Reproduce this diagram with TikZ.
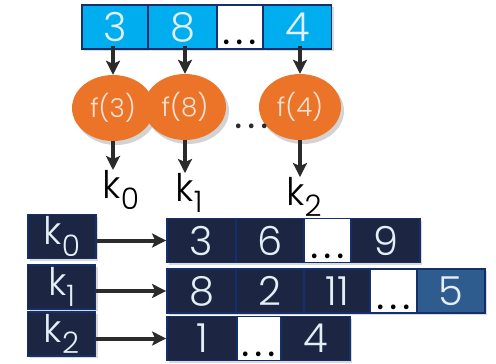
\documentclass[tikz,border=0pt]{standalone}
\usepackage{fontspec}
\setmainfont{Poppins}[UprightFont=* Light]
\usetikzlibrary{shapes.geometric,shadows,arrows.meta}
\definecolor{cellblue}{HTML}{00AEEF}
\definecolor{navyline}{HTML}{142F6B}
\definecolor{navyfill}{HTML}{1C2541}
\definecolor{lightcell}{HTML}{2F5C8E}
\definecolor{hashorange}{HTML}{EC7428}
\definecolor{paletext}{HTML}{E4EEF6}
\definecolor{peachtext}{HTML}{FAE3D4}
\definecolor{arrowgrey}{HTML}{2B2B2B}
\newcommand{\keyname}[1]{k\raisebox{-0.3em}{\scalebox{0.78}{#1}}}
\newcommand{\celldots}{\raisebox{-18pt}[0pt][0pt]{.\hspace{4.5pt}.\hspace{4.5pt}.}}
\tikzset{
  cell/.style={draw=navyline, line width=1.8pt, inner sep=0pt, minimum height=44,
    text=paletext, font=\fontsize{40}{40}\selectfont,
    drop shadow={opacity=0.3, shadow xshift=2pt, shadow yshift=-2pt}},
  topcell/.style={cell, fill=cellblue, minimum width=68},
  keycell/.style={cell, fill=navyfill, minimum width=68},
  dotcell/.style={cell, fill=white, text=black, minimum width=46, font=\fontsize{46}{46}\selectfont},
  hashfun/.style={ellipse, fill=hashorange, minimum width=82, minimum height=66, inner sep=0pt,
    text=peachtext, font=\fontsize{26}{26}\selectfont,
    drop shadow={opacity=0.35, shadow xshift=3pt, shadow yshift=-4pt}},
  keylabel/.style={font=\fontsize{38}{38}\selectfont, inner sep=0pt},
  arr/.style={-{Stealth[length=14pt,width=14pt,inset=3pt]}, draw=arrowgrey, line width=4pt}
}
\begin{document}
\begin{tikzpicture}[x=1pt, y=-1pt]
\useasboundingbox (0,0) rectangle (496,364);

% input array
\node[topcell, minimum width=66] (in0) at (115,27) {3};
\node[topcell] (in1) at (182.5,27) {8};
\node[dotcell] (in2) at (240,27) {\celldots};
\node[topcell] (in3) at (297.5,27) {4};

% hash function
\node[hashfun] (f0) at (113,108) {f(3)};
\node[hashfun] (f1) at (185,107) {f(8)};
\node[hashfun] (f2) at (300,107) {f(4)};
\node[font=\fontsize{46}{46}\selectfont, text=arrowgrey] (fdots) at (252,126) {.\hspace{4.5pt}.\hspace{4.5pt}.};

\node[keylabel] (k0) at (121,190) {\keyname{0}};
\node[keylabel] (k1) at (189,193) {\keyname{1}};
\node[keylabel] (k2) at (304,197) {\keyname{2}};

\draw[arr] (in0.south -| f0.north) ++(0,-4) -- (f0.north);
\draw[arr] (in1.south -| f1.north) ++(0,-4) -- (f1.north);
\draw[arr] (in3.south -| f2.north) ++(0,-4) -- (f2.north);
\draw[arr] (f0.south) -- (f0.south |- k0.north);
\draw[arr] (f1.south) -- (f1.south |- k1.north);
\draw[arr] (f2.south) -- (f2.south |- k2.north);

% buckets
\node[keycell, font=\fontsize{38}{38}\selectfont] (b0) at (62,236.5) {\keyname{0}};
\node[keycell, font=\fontsize{38}{38}\selectfont] (b1) at (61.5,287) {\keyname{1}};
\node[keycell, font=\fontsize{38}{38}\selectfont] (b2) at (61.5,334) {\keyname{2}};

\node[keycell, minimum width=69] (r00) at (201.5,240.5) {3};
\node[keycell] (r01) at (270,240.5) {6};
\node[dotcell, minimum width=47] (r02) at (327.5,240.5) {\celldots};
\node[keycell, minimum width=69] (r03) at (385.5,240.5) {9};

\node[keycell, minimum width=69] (r10) at (201.5,291) {8};
\node[keycell] (r11) at (270,291) {2};
\node[keycell, minimum width=66] (r12) at (337,291) {11};
\node[dotcell, minimum width=47] (r13) at (393.5,291) {\celldots};
\node[keycell, fill=lightcell] (r14) at (451,291) {5};

\node[keycell, minimum width=70] (r20) at (202,338.5) {1};
\node[dotcell, minimum width=44] (r21) at (259,338.5) {\celldots};
\node[keycell, minimum width=69] (r22) at (315.5,338.5) {4};

\draw[arr] (b0.east |- r00.west) -- (r00.west);
\draw[arr] (b1.east |- r10.west) -- (r10.west);
\draw[arr] (b2.east |- r20.west) -- (r20.west);
\end{tikzpicture}
\end{document}
